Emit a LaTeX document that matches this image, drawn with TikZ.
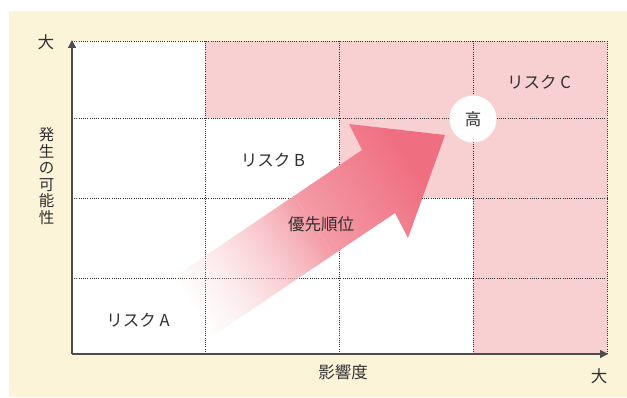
\documentclass[tikz,border=0pt]{standalone}
\usepackage{fontspec}
\newfontfamily\jp{Noto Sans CJK JP}
\usetikzlibrary{arrows.meta,fadings}
\definecolor{cream}{HTML}{FCF4D9}
\definecolor{cellpink}{HTML}{F8D0D2}
\definecolor{axisgray}{HTML}{4D4D4D}
\definecolor{txt}{HTML}{303030}
\definecolor{arrTail}{HTML}{F9CDD1}
\definecolor{arrMid}{HTML}{F6B2BA}
\definecolor{arrTip}{HTML}{EF6E80}
\begin{tikzfadingfrompicture}[name=arrowfade]
  \shade[left color=transparent!100, right color=transparent!0] (-145pt,-300pt) rectangle (5pt,300pt);
  \fill[transparent!0] (5pt,-300pt) rectangle (320pt,300pt);
  \path (-320pt,-300pt) rectangle (320pt,300pt);
\end{tikzfadingfrompicture}
\tikzset{
  lbl/.style={font=\jp\fontsize{16.5}{18}\selectfont, text=txt, inner sep=0pt},
  gridline/.style={draw=txt, line width=0.7pt, dash pattern=on 1pt off 1.2pt},
  axisline/.style={draw=axisgray, line width=1.3pt, -{Triangle[length=8pt,width=8pt]}},
}
\begin{document}
\begin{tikzpicture}[x=1pt,y=1pt]
\useasboundingbox (0,0) rectangle (627,397);
% background
\fill[cream] (9,0) rectangle (627,386);
\fill[white] (72,43) rectangle (607,356);
% pink cells
\fill[cellpink] (205,279) rectangle (607,356);
\fill[cellpink] (339,199) rectangle (607,279);
\fill[cellpink] (473,43) rectangle (607,199);
% grid
\coordinate (o) at (72,43);
\coordinate (ytop) at (72,357);
\coordinate (xend) at (608,43);
\draw[gridline] (72,356) -- (607,356) -- (607,43);
\draw[gridline] (72,279) -- (607,279);
\draw[gridline] (72,199) -- (607,199);
\draw[gridline] (72,119) -- (607,119);
\draw[gridline] (205,43) -- (205,356);
\draw[gridline] (339,43) -- (339,356);
\draw[gridline] (473,43) -- (473,356);
% priority arrow
\shade[top color=arrTip, middle color=arrMid, bottom color=arrTail, shading angle=-56,
  path fading=arrowfade, fit fading=false, fading transform={shift={(310pt,168pt)},rotate=34}]
  (445,262) -- (349,273) -- (362,247) -- (175.5,121.2) -- (215,62.6) -- (395,184) -- (408,159) -- cycle;
% axes
\draw[axisline] (o) -- (ytop);
\draw[axisline] (o) -- (xend);
% labels
\node[lbl] (ybig) at (46,355) {大};
\node[lbl, align=center, font=\jp\fontsize{15.5}{16.5}\selectfont] (ylab) at (46.5,221) {発\\生\\の\\可\\能\\性};
\node[lbl] (ra) at (138,77) {リスク A};
\node[lbl] (rb) at (273,237) {リスク B};
\node[lbl] (rc) at (539,315) {リスク C};
\node[lbl] (prio) at (321,173) {優先順位};
\node[lbl] (xlab) at (343,25) {影響度};
\node[lbl] (xbig) at (599,21) {大};
\node[circle, fill=white, minimum size=47pt, inner sep=0pt, font=\jp\fontsize{16.5}{18}\selectfont, text=txt] (high) at (473,278) {高};
\end{tikzpicture}
\end{document}
